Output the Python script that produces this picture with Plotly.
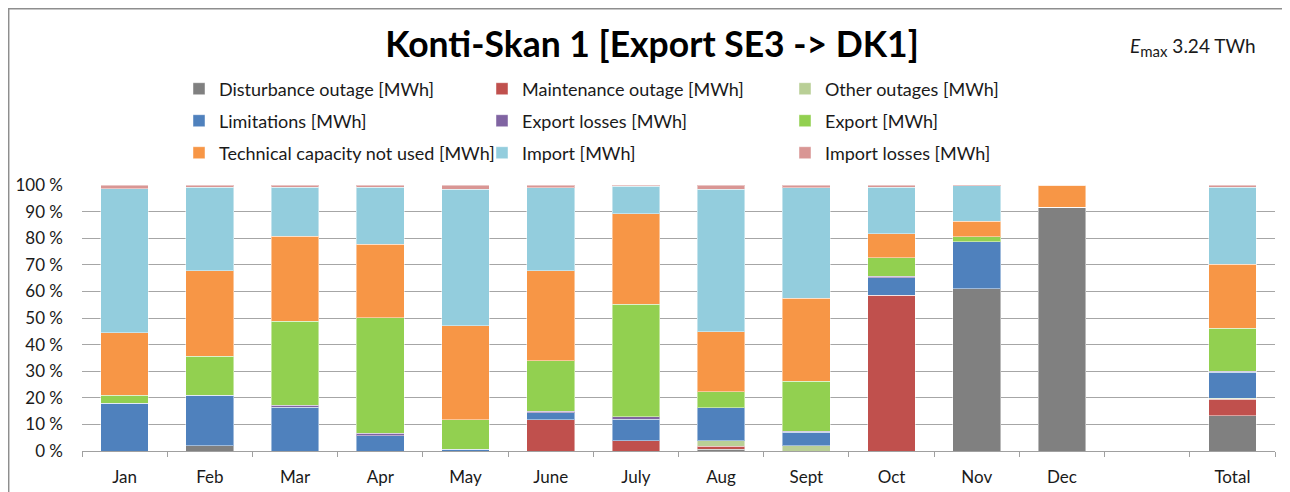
import plotly.graph_objects as go

categories = ["Jan", "Feb", "Mar", "Apr", "May", "June", "July", "Aug", "Sept", "Oct", "Nov", "Dec", " ", "Total"]

disturbance = [0, 2.0, 0, 0, 0, 0, 0, 0.75, 0, 0, 61.0, 91.7, None, 13.3]
maintenance = [0, 0, 0, 0, 0, 11.8, 3.9, 1.1, 0, 58.6, 0, 0, None, 6.2]
other_outages = [0, 0, 0, 0, 0, 0, 0, 2.0, 2.0, 0, 0, 0, None, 0.4]
limitations = [18.0, 18.9, 16.4, 5.8, 0.75, 2.6, 8.1, 12.5, 5.0, 6.6, 17.6, 0, None, 9.7]
export_losses = [0, 0, 0.8, 0.8, 0, 0.5, 0.8, 0, 0.5, 0.5, 0, 0, None, 0.3]
export = [2.9, 14.7, 31.5, 43.5, 11.0, 19.1, 42.3, 6.0, 18.7, 7.0, 1.9, 0, None, 16.2]
tech_not_used = [23.6, 32.1, 32.1, 27.7, 35.4, 33.7, 34.1, 22.5, 31.3, 9.0, 5.8, 8.3, None, 24.2]
import_ = [54.0, 31.5, 18.4, 21.4, 51.3, 31.3, 10.4, 53.6, 41.5, 17.5, 13.4, 0, None, 28.9]
import_losses = [1.5, 0.8, 0.8, 0.8, 1.5, 1.0, 0.4, 1.5, 1.0, 0.8, 0.3, 0, None, 0.8]

series = [
    ("Disturbance outage [MWh]", disturbance, "#808080", "legend"),
    ("Maintenance outage [MWh]", maintenance, "#C0504D", "legend"),
    ("Other outages [MWh]", other_outages, "#B9CF96", "legend"),
    ("Limitations [MWh]", limitations, "#4F81BD", "legend2"),
    ("Export losses [MWh]", export_losses, "#8064A2", "legend2"),
    ("Export [MWh]", export, "#92D050", "legend2"),
    ("Technical capacity not used [MWh]", tech_not_used, "#F79646", "legend3"),
    ("Import [MWh]", import_, "#93CDDD", "legend3"),
    ("Import losses [MWh]", import_losses, "#D99694", "legend3"),
]

FONT = "Lato, 'Open Sans', sans-serif"

fig = go.Figure()
for name, vals, color, lg in series:
    fig.add_trace(go.Bar(
        x=categories, y=vals, name=name, legend=lg,
        marker=dict(color=color, line=dict(color="rgba(255,255,255,0.45)", width=1)),
    ))

# page body has an 8px margin: work in reference pixel coords, shift by OFF
OFF = 8
W, H = 1290 - OFF, 492 - OFF
PL, PR, PT, PB = 82, 1275, 185, 451  # plot area in reference pixels
L = PL - OFF
T = PT - OFF
R = W - (PR - OFF)
B = H - (PB - OFF)
pw = PR - PL
ph = PB - PT

def rx(px):
    return (px - PL) / pw

def ry(py):
    return (PB - py) / ph

legend_common = dict(
    orientation="h", xanchor="left", yanchor="middle",
    font=dict(family=FONT, size=18, color="#1a1a1a"),
    entrywidth=258, entrywidthmode="pixels",
    bgcolor="rgba(0,0,0,0)", itemclick=False, itemdoubleclick=False,
    traceorder="normal",
)

fig.update_layout(
    width=W, height=H,
    margin=dict(l=L, r=R, t=T, b=B, autoexpand=False),
    paper_bgcolor="white", plot_bgcolor="white",
    barmode="stack", bargap=0.44,
    font=dict(family=FONT, size=18, color="#1a1a1a"),
    title=dict(
        text="<b>Konti-Skan 1 [Export SE3 -> DK1]</b>",
        x=(652 - OFF) / W, xanchor="center", xref="container",
        y=1 - (45 - OFF) / H, yanchor="middle", yref="container",
        font=dict(family=FONT, size=35.5, color="#000000"),
    ),
    legend=dict(x=rx(179), y=ry(89), **legend_common),
    legend2=dict(x=rx(179), y=ry(121), **legend_common),
    legend3=dict(x=rx(179), y=ry(153), **legend_common),
    xaxis=dict(
        type="category", tickson="boundaries", ticks="outside", ticklen=5,
        tickcolor="#A0A0A0", showline=True, linecolor="#A0A0A0", linewidth=1,
        showgrid=False, tickfont=dict(family=FONT, size=17, color="#1a1a1a"),
        ticklabelstandoff=11,
    ),
    yaxis=dict(
        range=[0, 100], dtick=10, ticksuffix=" %", showgrid=True,
        gridcolor="#A6A6A6", gridwidth=1, zeroline=False, showline=False,
        tickfont=dict(family=FONT, size=17, color="#1a1a1a"),
        ticklabelstandoff=18,
    ),
    annotations=[dict(
        text="<i>E</i><sub><span style='font-size:15px'>max</span></sub> 3.24 TWh",
        xref="paper", yref="paper", x=rx(1258), y=ry(47),
        xanchor="right", yanchor="middle", showarrow=False,
        font=dict(family=FONT, size=19, color="#1a1a1a"),
    )],
    shapes=[dict(
        type="rect", xref="paper", yref="paper",
        x0=rx(8.7), x1=rx(1310),
        y0=ry(520), y1=ry(8.7),
        line=dict(color="#8E8E8E", width=1.5), fillcolor="rgba(0,0,0,0)", layer="below",
    )],
)

fig.write_html("out.html")
